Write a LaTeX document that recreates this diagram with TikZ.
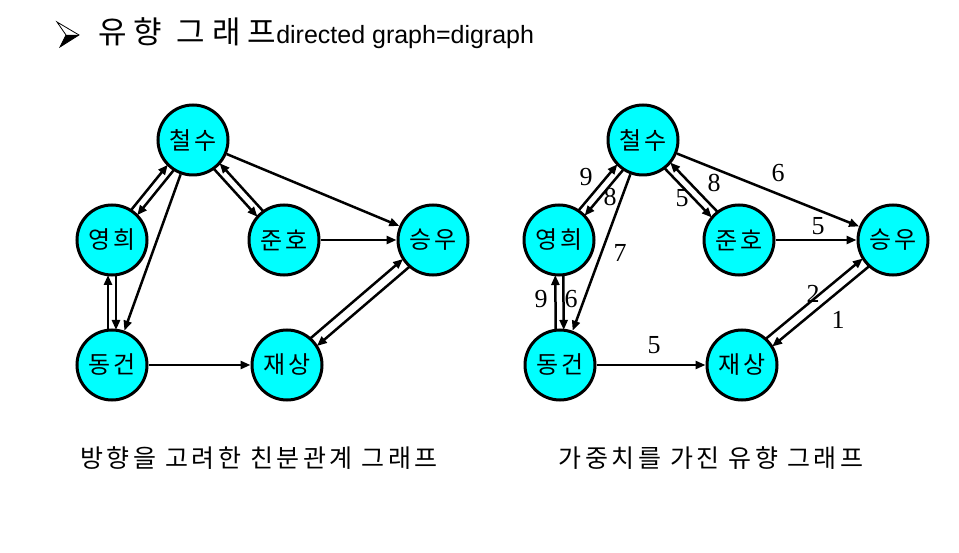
\documentclass[tikz,border=0pt]{standalone}
\usepackage{fontspec}
\setmainfont{Liberation Sans}
\newfontfamily\korfont[LetterSpace=10]{Noto Sans CJK KR}
\newfontfamily\korcap[LetterSpace=14]{Noto Sans CJK KR}
\newfontfamily\korwide[LetterSpace=23]{Noto Sans CJK KR}
\newfontfamily\numfont{Liberation Serif}
\usetikzlibrary{arrows.meta,calc}
\definecolor{nodecyan}{RGB}{0,255,255}

\tikzset{
 person/.style={circle,draw=black,line width=3pt,fill=nodecyan,minimum size=70pt,
   inner sep=0pt,font=\korfont\fontsize{24}{26}\selectfont},
 link/.style={line width=2.5pt,-{Triangle[length=10pt,width=8pt]}},
 twin/.style={link,shorten >=35pt,shorten <=35pt},
 wt/.style={font=\numfont\fontsize{26}{28}\selectfont,inner sep=0pt},
 caption/.style={anchor=base,font=\korcap\fontsize{25}{27}\selectfont}
}
% one of two parallel arrows between two nodes
\newcommand\twoline[3]{\draw[twin] ($(#1)!#3!90:(#2)$) -- ($(#2)!#3!-90:(#1)$);}

\begin{document}
\begin{tikzpicture}[x=1pt,y=-1pt]
 \useasboundingbox (0,0) rectangle (959,553);

 % title
 \fill (66,35)--(79,35)--(60,47)--cycle;
 \draw[line width=0.8pt] (57,22)--(79,35)--(60,47)--(66,35)--cycle;
 \node[anchor=base west,inner sep=0pt] (title) at (98,44)
   {{\korwide\fontsize{31}{33}\selectfont 유향 그래프}{\fontsize{25}{27}\selectfont directed graph=digraph}};

 % left graph
 \node[person] (cs) at (193,140) {철수};
 \node[person] (yh) at (112,240) {영희};
 \node[person] (jh) at (284,240) {준호};
 \node[person] (sw) at (433,240) {승우};
 \node[person] (dg) at (112,365) {동건};
 \node[person] (js) at (287,365) {재상};

 \twoline{yh}{cs}{4pt}
 \twoline{cs}{yh}{4pt}
 \twoline{cs}{jh}{-4pt}
 \twoline{jh}{cs}{-4pt}
 \twoline{dg}{yh}{4pt}
 \twoline{yh}{dg}{4pt}
 \twoline{js}{sw}{5pt}
 \twoline{sw}{js}{5pt}
 \draw[link] (cs) -- (dg);
 \draw[link] (cs) -- (sw);
 \draw[link] (jh) -- (sw);
 \draw[link] (dg) -- (js);

 \node[caption] (cap1) at (259,467) {방향을 고려한 친분관계 그래프};

 % right graph
 \node[person] (cs2) at (643,140) {철수};
 \node[person] (yh2) at (559,240) {영희};
 \node[person] (jh2) at (739,240) {준호};
 \node[person] (sw2) at (893,240) {승우};
 \node[person] (dg2) at (560,365) {동건};
 \node[person] (js2) at (742,365) {재상};

 \twoline{yh2}{cs2}{4pt}
 \twoline{cs2}{yh2}{4pt}
 \twoline{cs2}{jh2}{-4pt}
 \twoline{jh2}{cs2}{-4pt}
 \twoline{dg2}{yh2}{4pt}
 \twoline{yh2}{dg2}{4pt}
 \twoline{js2}{sw2}{5pt}
 \twoline{sw2}{js2}{5pt}
 \draw[link] (cs2) -- (dg2);
 \draw[link] (cs2) -- (sw2);
 \draw[link] (jh2) -- (sw2);
 \draw[link] (dg2) -- (js2);

 % weights
 \node[wt] (w1) at (586,177) {9};
 \node[wt] (w2) at (610,197) {8};
 \node[wt] (w3) at (620,253) {7};
 \node[wt] (w4) at (682,198) {5};
 \node[wt] (w5) at (714,183) {8};
 \node[wt] (w6) at (778,173) {6};
 \node[wt] (w7) at (818,226) {5};
 \node[wt] (w8) at (541,299) {9};
 \node[wt] (w9) at (571,299) {6};
 \node[wt] (w10) at (654,345) {5};
 \node[wt] (w11) at (813,294) {2};
 \node[wt] (w12) at (838,320) {1};

 \node[caption] (cap2) at (711,467) {가중치를 가진 유향 그래프};
\end{tikzpicture}
\end{document}
